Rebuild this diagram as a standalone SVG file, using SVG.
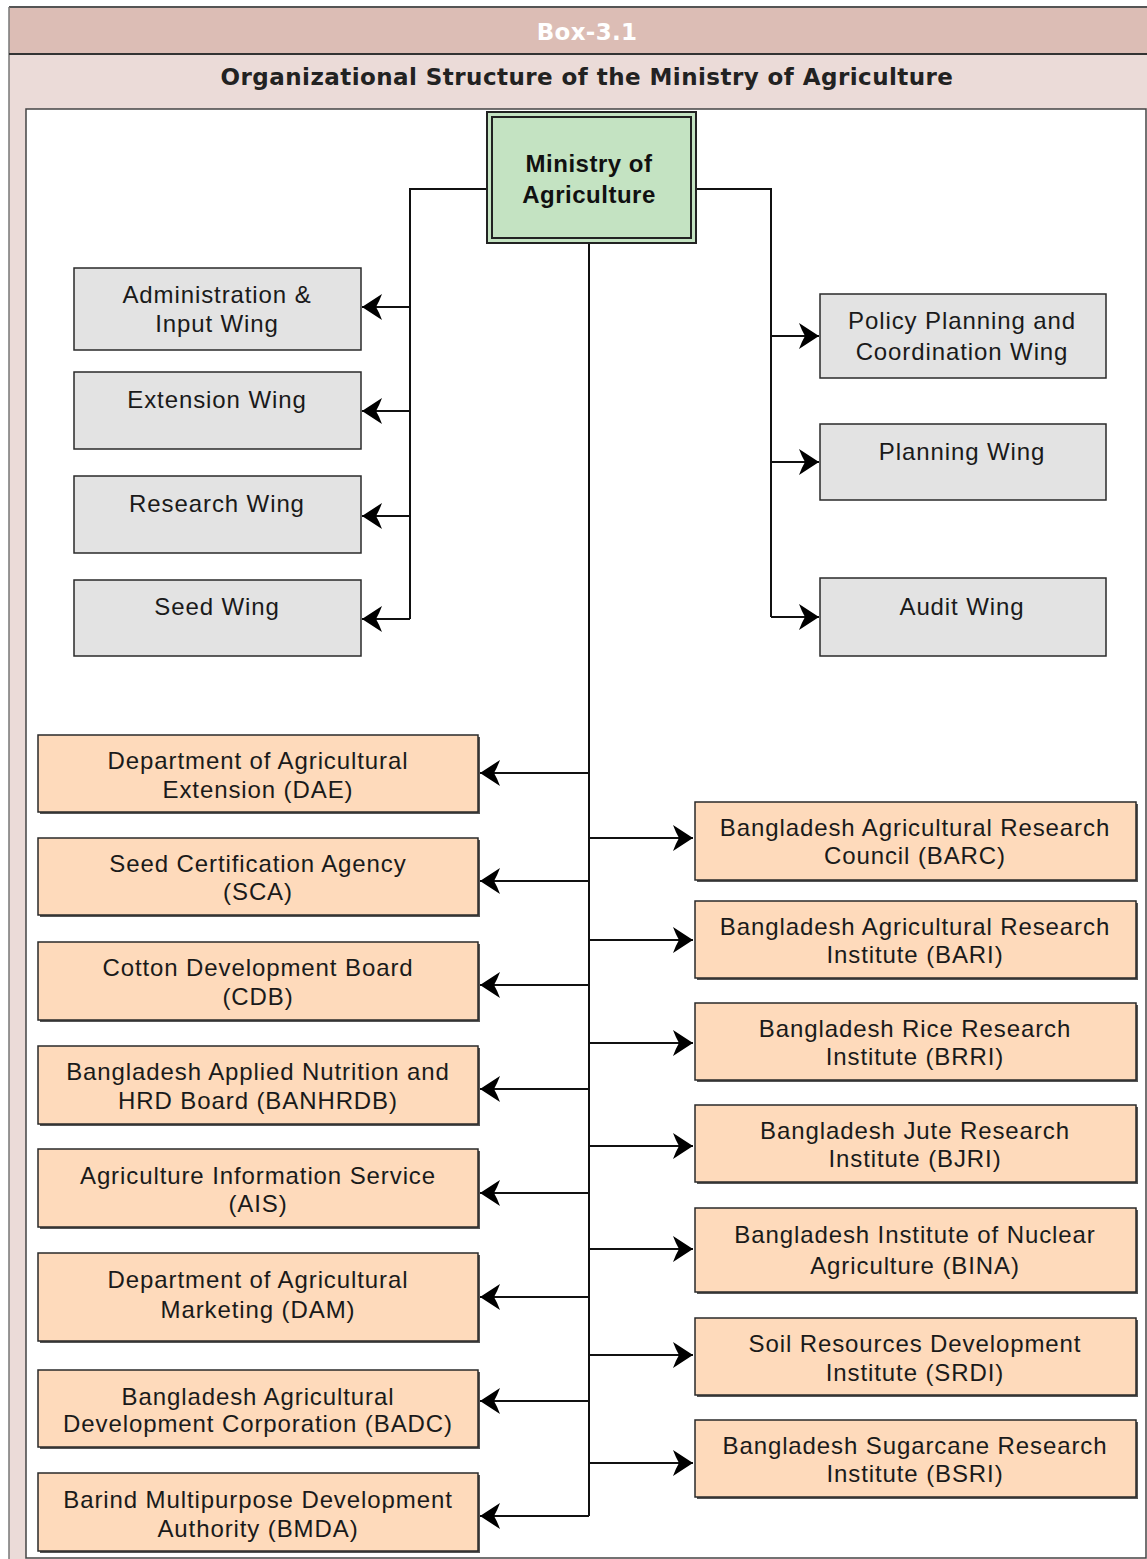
<svg xmlns="http://www.w3.org/2000/svg" width="1147" height="1559" viewBox="0 0 1147 1559">
<style>
.frame{fill:none;stroke:#444;stroke-width:1.5}
.gbox{fill:#e3e3e3;stroke:#2a2a2a;stroke-width:1.5}
.obox{fill:#fedabb;stroke:#2a2a2a;stroke-width:1.5}
.shadow{fill:#555}
.t{font-family:"Liberation Sans",Arial,sans-serif;font-size:24px;letter-spacing:0.9px;fill:#1a1a1a;text-anchor:middle}
.conn{fill:none;stroke:#111;stroke-width:2}
.arr{fill:none;stroke:#111;stroke-width:2;marker-end:url(#ah)}
</style>
<defs>
<marker id="ah" markerUnits="userSpaceOnUse" markerWidth="22" markerHeight="28" viewBox="0 0 22 28" refX="21" refY="14" orient="auto">
<path d="M21,14 L1,1 Q4,9 7,14 Q4,19 1,27 Z" fill="#000"/>
</marker>
</defs>
<rect x="0" y="0" width="1147" height="1559" fill="#ffffff"/>
<g id="frame">
<rect x="9" y="7" width="1138" height="47" fill="#dcbdb5"/>
<rect x="9" y="54" width="1138" height="55" fill="#ebdbd8"/>
<rect x="9" y="109" width="17" height="1450" fill="#ebdbd8"/>
<line x1="9" y1="7" x2="1147" y2="7" stroke="#555" stroke-width="2"/>
<line x1="9" y1="7" x2="9" y2="1559" stroke="#777" stroke-width="1.5"/>
<line x1="9" y1="54" x2="1147" y2="54" stroke="#333" stroke-width="2"/>
<rect x="26" y="109" width="1120" height="1449" fill="#ffffff" stroke="#444" stroke-width="1.5"/>
<text x="587" y="40" style="font-family:'DejaVu Sans',Verdana,sans-serif;font-weight:bold;font-size:23px;letter-spacing:0.3px;fill:#ffffff;text-anchor:middle">Box-3.1</text>
<text x="587" y="85" style="font-family:'DejaVu Sans',Verdana,sans-serif;font-weight:bold;font-size:23px;letter-spacing:0.45px;fill:#222;text-anchor:middle">Organizational Structure of the Ministry of Agriculture</text>
</g>
<g id="connectors">
<path class="conn" d="M487,189 H410 V619"/>
<path class="arr" d="M410,307 H362"/>
<path class="arr" d="M410,411 H362"/>
<path class="arr" d="M410,516 H362"/>
<path class="arr" d="M410,619 H362"/>
<path class="conn" d="M696,189 H771 V617"/>
<path class="arr" d="M771,336 H819"/>
<path class="arr" d="M771,462 H819"/>
<path class="arr" d="M771,617 H819"/>
<path class="conn" d="M589,243 V1516"/>
<path class="arr" d="M589,773 H480"/>
<path class="arr" d="M589,881 H480"/>
<path class="arr" d="M589,985 H480"/>
<path class="arr" d="M589,1089 H480"/>
<path class="arr" d="M589,1193 H480"/>
<path class="arr" d="M589,1297 H480"/>
<path class="arr" d="M589,1401 H480"/>
<path class="arr" d="M589,1516 H480"/>
<path class="arr" d="M589,838 H693"/>
<path class="arr" d="M589,940 H693"/>
<path class="arr" d="M589,1043 H693"/>
<path class="arr" d="M589,1146 H693"/>
<path class="arr" d="M589,1249 H693"/>
<path class="arr" d="M589,1355 H693"/>
<path class="arr" d="M589,1463 H693"/>
</g>
<g id="ministry">
<rect x="487" y="112" width="209" height="131" fill="#c4e3c2" stroke="#222" stroke-width="2"/>
<rect x="492" y="117" width="199" height="121" fill="#c4e3c2" stroke="#222" stroke-width="2"/>
<text x="589" y="172" style="font-family:'Liberation Sans',Arial,sans-serif;font-weight:bold;font-size:24px;letter-spacing:0.5px;fill:#111;text-anchor:middle">Ministry of</text>
<text x="589" y="203" style="font-family:'Liberation Sans',Arial,sans-serif;font-weight:bold;font-size:24px;letter-spacing:0.5px;fill:#111;text-anchor:middle">Agriculture</text>
</g>
<g id="admin"><rect class="gbox" x="74" y="268" width="287" height="82"/><text class="t" x="217" y="303">Administration &amp;</text><text class="t" x="217" y="332">Input Wing</text></g>
<g id="extension"><rect class="gbox" x="74" y="372" width="287" height="77"/><text class="t" x="217" y="408">Extension Wing</text></g>
<g id="research"><rect class="gbox" x="74" y="476" width="287" height="77"/><text class="t" x="217" y="512">Research Wing</text></g>
<g id="seed"><rect class="gbox" x="74" y="580" width="287" height="76"/><text class="t" x="217" y="615">Seed Wing</text></g>
<g id="policy"><rect class="gbox" x="820" y="294" width="286" height="84"/><text class="t" x="962" y="329">Policy Planning and</text><text class="t" x="962" y="360">Coordination Wing</text></g>
<g id="planning"><rect class="gbox" x="820" y="424" width="286" height="76"/><text class="t" x="962" y="460">Planning Wing</text></g>
<g id="audit"><rect class="gbox" x="820" y="578" width="286" height="78"/><text class="t" x="962" y="615">Audit Wing</text></g>
<g id="dae"><rect class="shadow" x="40" y="737" width="440" height="77"/><rect class="obox" x="38" y="735" width="440" height="77"/><text class="t" x="258" y="769">Department of Agricultural</text><text class="t" x="258" y="798">Extension (DAE)</text></g>
<g id="sca"><rect class="shadow" x="40" y="840" width="440" height="77"/><rect class="obox" x="38" y="838" width="440" height="77"/><text class="t" x="258" y="872">Seed Certification Agency</text><text class="t" x="258" y="900">(SCA)</text></g>
<g id="cdb"><rect class="shadow" x="40" y="944" width="440" height="78"/><rect class="obox" x="38" y="942" width="440" height="78"/><text class="t" x="258" y="976">Cotton Development Board</text><text class="t" x="258" y="1005">(CDB)</text></g>
<g id="banhrdb"><rect class="shadow" x="40" y="1048" width="440" height="78"/><rect class="obox" x="38" y="1046" width="440" height="78"/><text class="t" x="258" y="1080">Bangladesh Applied Nutrition and</text><text class="t" x="258" y="1109">HRD Board (BANHRDB)</text></g>
<g id="ais"><rect class="shadow" x="40" y="1151" width="440" height="78"/><rect class="obox" x="38" y="1149" width="440" height="78"/><text class="t" x="258" y="1184">Agriculture Information Service</text><text class="t" x="258" y="1212">(AIS)</text></g>
<g id="dam"><rect class="shadow" x="40" y="1255" width="440" height="88"/><rect class="obox" x="38" y="1253" width="440" height="88"/><text class="t" x="258" y="1288">Department of Agricultural</text><text class="t" x="258" y="1318">Marketing (DAM)</text></g>
<g id="badc"><rect class="shadow" x="40" y="1372" width="440" height="77"/><rect class="obox" x="38" y="1370" width="440" height="77"/><text class="t" x="258" y="1405">Bangladesh Agricultural</text><text class="t" x="258" y="1432">Development Corporation (BADC)</text></g>
<g id="bmda"><rect class="shadow" x="40" y="1475" width="440" height="78"/><rect class="obox" x="38" y="1473" width="440" height="78"/><text class="t" x="258" y="1508">Barind Multipurpose Development</text><text class="t" x="258" y="1537">Authority (BMDA)</text></g>
<g id="barc"><rect class="shadow" x="697" y="804" width="441" height="78"/><rect class="obox" x="695" y="802" width="441" height="78"/><text class="t" x="915" y="836">Bangladesh Agricultural Research</text><text class="t" x="915" y="864">Council (BARC)</text></g>
<g id="bari"><rect class="shadow" x="697" y="903" width="441" height="77"/><rect class="obox" x="695" y="901" width="441" height="77"/><text class="t" x="915" y="935">Bangladesh Agricultural Research</text><text class="t" x="915" y="963">Institute (BARI)</text></g>
<g id="brri"><rect class="shadow" x="697" y="1005" width="441" height="77"/><rect class="obox" x="695" y="1003" width="441" height="77"/><text class="t" x="915" y="1037">Bangladesh Rice Research</text><text class="t" x="915" y="1065">Institute (BRRI)</text></g>
<g id="bjri"><rect class="shadow" x="697" y="1107" width="441" height="77"/><rect class="obox" x="695" y="1105" width="441" height="77"/><text class="t" x="915" y="1139">Bangladesh Jute Research</text><text class="t" x="915" y="1167">Institute (BJRI)</text></g>
<g id="bina"><rect class="shadow" x="697" y="1210" width="441" height="84"/><rect class="obox" x="695" y="1208" width="441" height="84"/><text class="t" x="915" y="1243">Bangladesh Institute of Nuclear</text><text class="t" x="915" y="1274">Agriculture (BINA)</text></g>
<g id="srdi"><rect class="shadow" x="697" y="1320" width="441" height="77"/><rect class="obox" x="695" y="1318" width="441" height="77"/><text class="t" x="915" y="1352">Soil Resources Development</text><text class="t" x="915" y="1381">Institute (SRDI)</text></g>
<g id="bsri"><rect class="shadow" x="697" y="1422" width="441" height="77"/><rect class="obox" x="695" y="1420" width="441" height="77"/><text class="t" x="915" y="1454">Bangladesh Sugarcane Research</text><text class="t" x="915" y="1482">Institute (BSRI)</text></g>
</svg>
